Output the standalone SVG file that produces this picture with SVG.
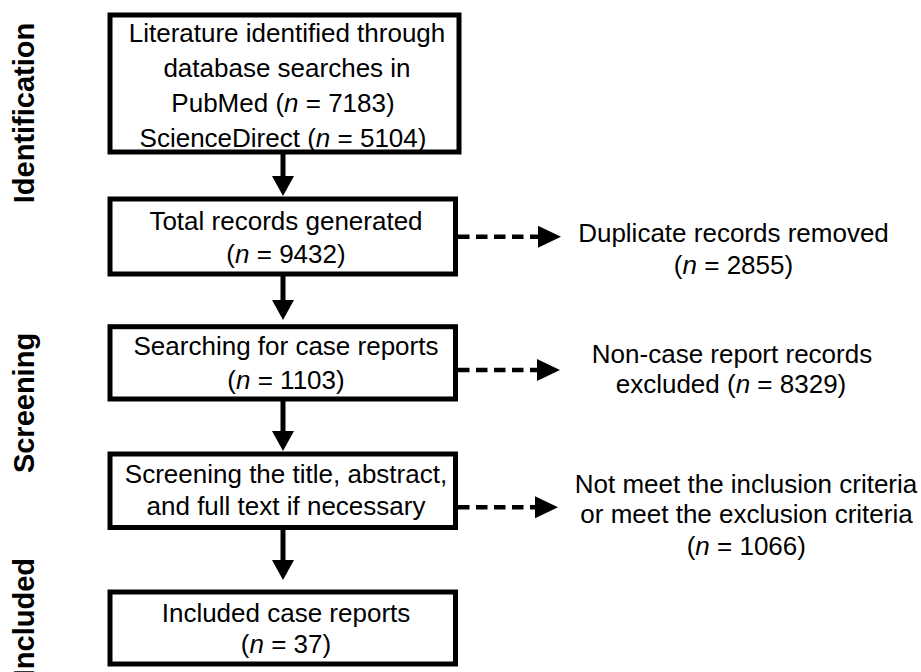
<svg xmlns="http://www.w3.org/2000/svg" width="921" height="672" viewBox="0 0 921 672">
  <defs>
    <style>
      .box { fill: #ffffff; stroke: #000000; stroke-width: 5; }
      .t { font-family: "Liberation Sans", Arial, sans-serif; font-size: 26px; fill: #000000; text-anchor: middle; }
      .stage { font-family: "Liberation Sans", Arial, sans-serif; font-size: 29px; font-weight: bold; fill: #000000; }
      .solid { stroke: #000000; stroke-width: 5; fill: none; }
      .dash { stroke: #000000; stroke-width: 4.5; fill: none; stroke-dasharray: 11.5 6.5; }
      .head { fill: #000000; }
      .i { font-style: italic; }
    </style>
  </defs>
  <rect width="921" height="672" fill="#ffffff"/>

  <!-- stage labels, rotated to read upwards -->
  <g id="stage-labels">
    <text class="stage" text-anchor="middle" transform="translate(33.5,113) rotate(-90)">Identification</text>
    <text class="stage" text-anchor="middle" transform="translate(33.5,403) rotate(-90)">Screening</text>
    <text class="stage" text-anchor="end" transform="translate(33.5,558) rotate(-90)">Included</text>
  </g>

  <!-- connectors: solid arrows down the main column, dashed arrows to the side notes -->
  <g id="connectors">
    <line class="solid" x1="283" y1="154" x2="283" y2="178"/>
    <polygon class="head" points="272,176 294,176 283,196"/>
    <line class="solid" x1="283" y1="276" x2="283" y2="302"/>
    <polygon class="head" points="272,300 294,300 283,320"/>
    <line class="solid" x1="283" y1="401" x2="283" y2="433"/>
    <polygon class="head" points="272,431 294,431 283,451"/>
    <line class="solid" x1="283" y1="529" x2="283" y2="562"/>
    <polygon class="head" points="272,560 294,560 283,580"/>

    <line class="dash" x1="458" y1="236.7" x2="540" y2="236.7"/>
    <polygon class="head" points="538,225.7 538,247.7 561,236.7"/>
    <line class="dash" x1="458" y1="370" x2="540" y2="370"/>
    <polygon class="head" points="537,359 537,381 560,370"/>
    <line class="dash" x1="458" y1="507.3" x2="538" y2="507.3"/>
    <polygon class="head" points="535,496.3 535,518.3 558,507.3"/>
  </g>

  <g id="node-identified">
    <rect class="box" x="110" y="15" width="349" height="137"/>
    <text class="t" x="287" y="42">Literature identified through</text>
    <text class="t" x="287" y="77">database searches in</text>
    <text class="t" x="283" y="112">PubMed (<tspan class="i">n</tspan> = 7183)</text>
    <text class="t" x="283" y="146.5">ScienceDirect (<tspan class="i">n</tspan> = 5104)</text>
  </g>

  <g id="node-total">
    <rect class="box" x="110" y="199" width="345.5" height="75"/>
    <text class="t" x="286" y="230">Total records generated</text>
    <text class="t" x="286" y="262.5">(<tspan class="i">n</tspan> = 9432)</text>
  </g>

  <g id="node-searching">
    <rect class="box" x="110" y="326.7" width="345.5" height="72.3"/>
    <text class="t" x="286" y="355">Searching for case reports</text>
    <text class="t" x="286" y="389.3">(<tspan class="i">n</tspan> = 1103)</text>
  </g>

  <g id="node-screening">
    <rect class="box" x="110" y="454" width="345.5" height="73.5"/>
    <text class="t" x="286" y="483.3">Screening the title, abstract,</text>
    <text class="t" x="286" y="515">and full text if necessary</text>
  </g>

  <g id="node-included">
    <rect class="box" x="110" y="592" width="345.5" height="72"/>
    <text class="t" x="286" y="621.7">Included case reports</text>
    <text class="t" x="286" y="653.3">(<tspan class="i">n</tspan> = 37)</text>
  </g>

  <g id="node-duplicates">
    <text class="t" x="733.5" y="241.7">Duplicate records removed</text>
    <text class="t" x="733.5" y="274">(<tspan class="i">n</tspan> = 2855)</text>
  </g>

  <g id="node-noncase">
    <text class="t" x="732" y="363.3">Non-case report records</text>
    <text class="t" x="731" y="392.7">excluded (<tspan class="i">n</tspan> = 8329)</text>
  </g>

  <g id="node-criteria">
    <text class="t" x="746" y="492.7">Not meet the inclusion criteria</text>
    <text class="t" x="746.5" y="523.3">or meet the exclusion criteria</text>
    <text class="t" x="746.3" y="555">(<tspan class="i">n</tspan> = 1066)</text>
  </g>
</svg>
